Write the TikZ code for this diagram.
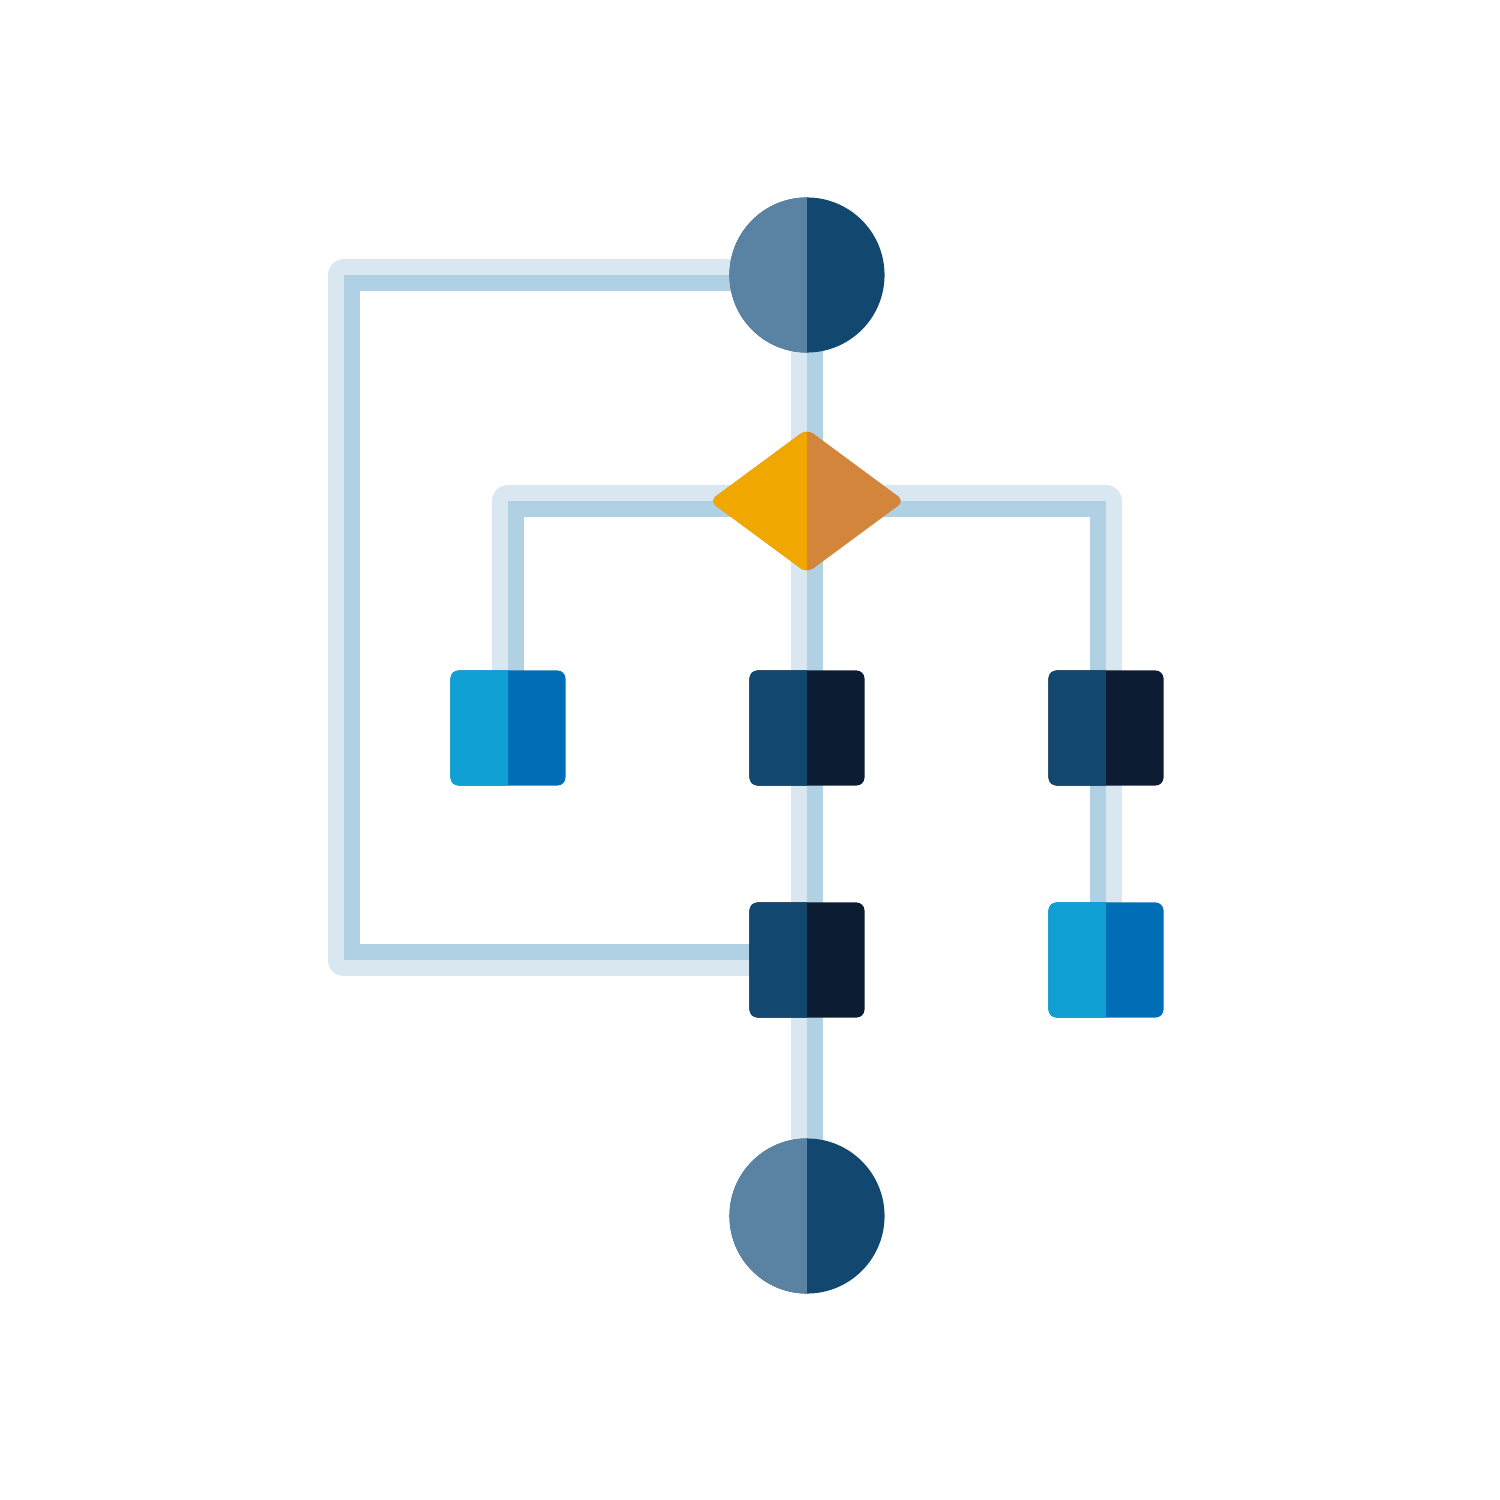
\documentclass[tikz,border=0pt]{standalone}
\usetikzlibrary{shapes.geometric,calc,backgrounds}
\definecolor{bandlight}{HTML}{D9E7F1}
\definecolor{banddark}{HTML}{B0D0E3}
\definecolor{circL}{HTML}{5A82A3}
\definecolor{navy}{HTML}{12476F}
\definecolor{ink}{HTML}{0C1D33}
\definecolor{ambL}{HTML}{F0A800}
\definecolor{ambR}{HTML}{D3863B}
\definecolor{skyL}{HTML}{0F9FD3}
\definecolor{skyR}{HTML}{006EB6}
\tikzset{
 twotone/.style 2 args={fill=#2, draw=none, inner sep=0pt, outer sep=0pt,
   path picture={\fill[#1, sharp corners] (path picture bounding box.south west) rectangle (path picture bounding box.north);}},
 terminal/.style={circle, minimum size=1.55cm, twotone={circL}{navy}},
 decision/.style={diamond, minimum width=1.95cm, minimum height=1.44cm, rounded corners=0.08cm, twotone={ambL}{ambR}},
 process/.style={rectangle, minimum size=1.15cm, rounded corners=0.08cm, twotone={navy}{ink}},
 altprocess/.style={rectangle, minimum size=1.15cm, rounded corners=0.08cm, twotone={skyL}{skyR}},
 bandA/.style={draw=bandlight, line width=0.32cm, line join=round},
 bandB/.style={draw=banddark, line width=0.16cm, line join=miter},
}
\begin{document}
\begin{tikzpicture}[x=0.01cm,y=-0.01cm]
\useasboundingbox (0,0) rectangle (1500,1500);
\node[terminal] (start) at (807,275) {};
\node[decision] (dec) at (807,501) {};
\node[altprocess] (p1) at (508,728) {};
\node[process] (p2) at (807,728) {};
\node[process] (p3) at (1106,728) {};
\node[process] (p4) at (807,960) {};
\node[altprocess] (p5) at (1106,960) {};
\node[terminal] (stop) at (807,1216) {};
\coordinate (loopcorner) at (344,960);
\begin{pgfonlayer}{background}
\draw[bandA] (start.center) -- (stop.center);
\draw[bandA] (p1.center) |- (dec.center) -| (p5.center);
\draw[bandA] (start.center) -| (loopcorner) -- (p4.center);
\draw[bandB] ($(start.center)+(8,0)$) -- ($(stop.center)+(8,0)$);
\draw[bandB] ($(p1.center)+(8,0)$) |- ($(dec.center)+(0,8)$) -| ($(p5.center)+(-8,0)$);
\draw[bandB] ($(start.center)+(0,8)$) -| ($(loopcorner)+(8,-8)$) -- ($(p4.center)+(0,-8)$);
\end{pgfonlayer}
\end{tikzpicture}
\end{document}
